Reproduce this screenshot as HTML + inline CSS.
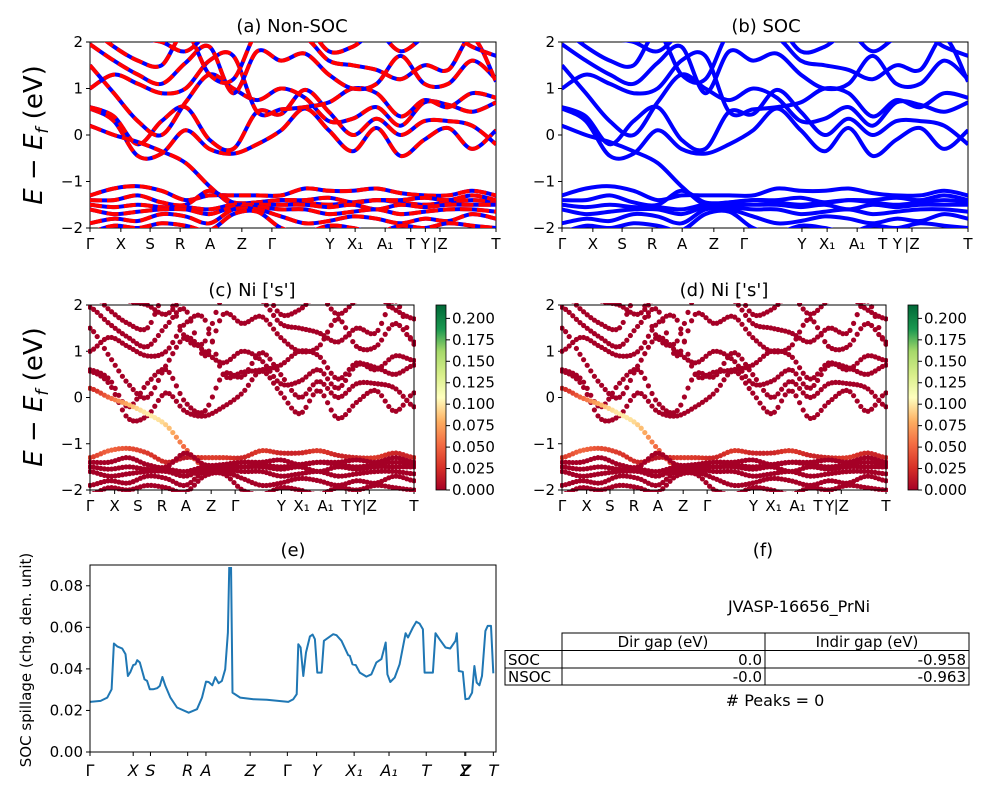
<!DOCTYPE html>
<html><head><meta charset="utf-8">
<style>
body{margin:0;background:#fff;}
svg{display:block;font-family:"DejaVu Sans","Liberation Sans",sans-serif;}
</style></head>
<body>
<svg id="fig" width="1000" height="800" viewBox="0 0 1000 800" xmlns="http://www.w3.org/2000/svg">
<defs>
<linearGradient id="rdylgn" x1="0" y1="1" x2="0" y2="0">
<stop offset="0" stop-color="#a50026"/><stop offset="0.12" stop-color="#d73027"/><stop offset="0.25" stop-color="#f46d43"/><stop offset="0.37" stop-color="#fdae61"/><stop offset="0.5" stop-color="#ffffbf"/><stop offset="0.62" stop-color="#d9ef8b"/><stop offset="0.75" stop-color="#a6d96a"/><stop offset="0.87" stop-color="#1a9850"/><stop offset="1" stop-color="#006837"/>
</linearGradient>
<clipPath id="clipA"><rect x="90" y="42" width="406" height="186"/></clipPath>
<clipPath id="clipB"><rect x="562" y="42" width="406" height="186"/></clipPath>
<clipPath id="clipC"><rect x="88" y="303" width="328" height="189"/></clipPath>
<clipPath id="clipD"><rect x="560" y="303" width="328" height="189"/></clipPath>
<clipPath id="clipE"><rect x="90" y="567" width="406" height="185"/></clipPath>
</defs>
</svg>
<script>
// ---- data ----
const kLabelsBand = ["Γ","X","S","R","A","Z","Γ","Y","X₁","A₁","T","Y","|Z","T"];
const kTickFrac = [0,0.076,0.148,0.222,0.296,0.374,0.448,0.591,0.653,0.727,0.79,0.826,0.862,1];
const yTicksBand = [-2,-1,0,1,2];
const bandC1 = [0.57,0.3,-0.45,-0.4,0.1,-0.3,-0.4,-0.2,0.1,0.57,0.1,-0.35,0.15,-0.45,-0.1,0.15,-0.3,0.1];
const bandC2 = [0.6,0.4,-0.2,0.3,0.6,-0.1,-0.3,0.5,0.45,0.97,0.5,0.0,0.35,0.0,0.3,0.3,0.2,-0.2];
const bandC3 = [1.5,0.9,0.3,0.0,0.7,1.3,1.0,0.75,1.0,0.8,0.3,0.35,0.6,0.2,0.7,0.65,0.5,0.7];
const bandC4 = [1.0,1.3,1.1,0.9,1.0,1.6,1.7,0.5,0.55,0.6,0.7,1.0,0.9,0.4,0.75,0.6,0.9,0.8];
const bandC5 = [1.95,1.6,1.3,1.1,1.55,1.9,0.9,1.8,1.6,1.75,1.3,1.0,1.1,1.7,1.1,1.1,1.6,1.2];
const bandC6 = [2.3,1.9,1.6,1.5,2.2,1.3,1.2,2.2,2.1,2.1,1.6,1.5,1.4,1.2,1.5,1.4,2.1,1.15];
const bandC7 = [2.5,2.4,2.1,2.0,1.8,2.2,2.3,2.5,2.5,2.4,1.8,1.9,2.2,1.8,2.1,2.2,1.9,1.7];
const bandX1 = [0.2,0.0,-0.15,-0.35,-0.6,-1.1,-1.5,-1.45,-1.4,-1.45,-1.5,-1.45,-1.4,-1.45,-1.5,-1.45,-1.4,-1.45];
const bandV1 = [-1.3,-1.15,-1.1,-1.2,-1.4,-1.3,-1.3,-1.3,-1.3,-1.15,-1.2,-1.2,-1.15,-1.25,-1.3,-1.3,-1.2,-1.3];
const bandV2 = [-1.4,-1.4,-1.3,-1.45,-1.5,-1.2,-1.45,-1.45,-1.4,-1.4,-1.35,-1.45,-1.4,-1.4,-1.35,-1.4,-1.3,-1.4];
const bandV3 = [-1.5,-1.55,-1.5,-1.55,-1.55,-1.6,-1.5,-1.5,-1.5,-1.5,-1.55,-1.5,-1.6,-1.5,-1.55,-1.5,-1.5,-1.5];
const bandV4 = [-1.6,-1.7,-1.65,-1.6,-1.6,-1.7,-1.55,-1.55,-1.6,-1.6,-1.7,-1.65,-1.6,-1.7,-1.65,-1.6,-1.6,-1.65];
const bandV5 = [-1.9,-1.8,-1.85,-1.7,-1.75,-1.9,-1.6,-1.6,-1.75,-1.9,-1.85,-1.75,-1.8,-1.9,-1.8,-1.85,-1.7,-1.8];
const bandV6 = [-2.1,-1.95,-2.0,-1.9,-1.95,-2.05,-1.7,-1.65,-2.0,-2.1,-1.95,-2.0,-2.1,-1.95,-2.0,-1.9,-1.95,-2.0];
const weightX1 = [0.02,0.05,0.08,0.1,0.09,0.05,0.03,0.01,0,0,0,0,0,0,0,0,0,0];
const weightV1 = [0.03,0.05,0.04,0.03,0.02,0.01,0.03,0.03,0.02,0.03,0.02,0.02,0.03,0.02,0.02,0.03,0.02,0.02];
const bandsAll = [bandC1,bandC2,bandC3,bandC4,bandC5,bandC6,bandC7,bandX1,bandV1,bandV2,bandV3,bandV4,bandV5,bandV6];
const zero18 = [0,0,0,0,0,0,0,0,0,0,0,0,0,0,0,0,0,0];
const weightsAll = [zero18,zero18,zero18,zero18,zero18,zero18,zero18,weightX1,weightV1,zero18,zero18,zero18,zero18,zero18];
const cbarTicks = [0,0.025,0.05,0.075,0.1,0.125,0.15,0.175,0.2];
const cbarMax = 0.2156;
// spillage
const spillK = [0,32,52,65,72,82,97,107,114,122,130,137,142,150,157,164,172,180,190,202,210,218,227,242,262,297,322,337,349,357,368,377,387,397,407,415,420,424,429,452,492,532,597,612,622,627,634,642,650,662,670,677,684,697,704,732,742,757,777,782,790,800,812,832,847,862,877,890,895,904,917,932,950,957,972,982,992,1002,1007,1032,1040,1052,1070,1084,1100,1104,1110,1122,1130,1140,1150,1157,1164,1172,1180,1190,1197,1207,1214];
const spillV = [0.0241,0.0246,0.0262,0.0302,0.0522,0.0508,0.0498,0.0471,0.0366,0.0386,0.0418,0.0422,0.0442,0.0431,0.039,0.035,0.0342,0.0302,0.0302,0.0307,0.0318,0.0361,0.0318,0.0262,0.0214,0.0189,0.0206,0.0262,0.0339,0.0337,0.0321,0.036,0.0331,0.0342,0.0398,0.0575,0.095,0.095,0.0286,0.0262,0.0254,0.0251,0.0241,0.0254,0.0278,0.0519,0.0503,0.0366,0.0479,0.0556,0.0565,0.0543,0.0382,0.0382,0.0535,0.0567,0.0562,0.0535,0.0466,0.0463,0.0422,0.0418,0.0382,0.0363,0.0374,0.0431,0.0447,0.0527,0.0374,0.0337,0.0358,0.0422,0.0572,0.0551,0.0599,0.0627,0.0618,0.0591,0.0382,0.0382,0.0572,0.0543,0.0503,0.0498,0.0535,0.0572,0.039,0.0386,0.0254,0.0257,0.0286,0.0414,0.0334,0.0321,0.0366,0.0583,0.0607,0.0607,0.0379];
const spillKMax = 1222;
const spillTickK = [0,130,182,294,349,482,594,682,795,900,1012,1128,1131,1214];
const spillTickLabels = ["Γ","X","S","R","A","Z","Γ","Y","X₁","A₁","T","Y","Z","T"];
const spillYTicks = [0,0.02,0.04,0.06,0.08];

// ---- helpers ----
const NS="http://www.w3.org/2000/svg";
const svg=document.getElementById('fig');
function mk(tag,attrs,parent){const e=document.createElementNS(NS,tag);for(const k in attrs)e.setAttribute(k,attrs[k]);(parent||svg).appendChild(e);return e;}
function txt(s,x,y,size,anchor,parent){const t=mk('text',{x:x,y:y,'font-size':size,'text-anchor':anchor||'middle',fill:'#000'},parent);t.textContent=s;return t;}
function smoothPath(pts){let d='M'+pts[0][0].toFixed(1)+','+pts[0][1].toFixed(1);for(let i=0;i<pts.length-1;i++){const p0=pts[Math.max(i-1,0)],p1=pts[i],p2=pts[i+1],p3=pts[Math.min(i+2,pts.length-1)];const c1=[p1[0]+(p2[0]-p0[0])/6,p1[1]+(p2[1]-p0[1])/6],c2=[p2[0]-(p3[0]-p1[0])/6,p2[1]-(p3[1]-p1[1])/6];d+='C'+c1.map(v=>v.toFixed(1))+' '+c2.map(v=>v.toFixed(1))+' '+p2.map(v=>v.toFixed(1));}return d;}
function interp(arr,f){const p=f*(arr.length-1);const i=Math.min(Math.floor(p),arr.length-2);const t=p-i;const p0=arr[Math.max(i-1,0)],p1=arr[i],p2=arr[i+1],p3=arr[Math.min(i+2,arr.length-1)];const t2=t*t,t3=t2*t;return 0.5*((2*p1)+(-p0+p2)*t+(2*p0-5*p1+4*p2-p3)*t2+(-p0+3*p1-3*p2+p3)*t3);}
function rdylgn(v){const stops=[[0,[165,0,38]],[0.12,[215,48,39]],[0.25,[244,109,67]],[0.37,[253,174,97]],[0.5,[255,255,191]],[0.62,[217,239,139]],[0.75,[166,217,106]],[0.87,[26,152,80]],[1,[0,104,55]]];v=Math.max(0,Math.min(1,v));for(let i=0;i<stops.length-1;i++){if(v<=stops[i+1][0]){const t=(v-stops[i][0])/(stops[i+1][0]-stops[i][0]);const c=stops[i][1].map((a,j)=>Math.round(a+(stops[i+1][1][j]-a)*t));return 'rgb('+c+')';}}return 'rgb(0,104,55)';}

function bandAxes(g,x0,y0,w,h,labelSize){
  const sx=f=>x0+f*w, sy=e=>y0+h-(e+2)/4*h;
  mk('rect',{x:x0,y:y0,width:w,height:h,fill:'none',stroke:'#000','stroke-width':1},g);
  yTicksBand.forEach(v=>{mk('line',{x1:x0-4,x2:x0,y1:sy(v),y2:sy(v),stroke:'#000'},g);txt(v<0?'−'+(-v):String(v),x0-7,sy(v)+5,15,'end',g);});
  kTickFrac.forEach((f,i)=>{mk('line',{x1:sx(f),x2:sx(f),y1:y0+h,y2:y0+h+4,stroke:'#000'},g);txt(kLabelsBand[i],sx(f),y0+h+21,labelSize,'middle',g);});
  return {sx,sy};
}
function bandLines(g,ax,clip,mode){
  const cg=mk('g',{'clip-path':'url(#'+clip+')'},g);
  bandsAll.forEach((b,bi)=>{
    const pts=b.map((e,i)=>[ax.sx(i/(b.length-1)),ax.sy(e)]);
    const d=smoothPath(pts);
    const p1=mk('path',{d:d,fill:'none',stroke:'#0000ff','stroke-width':4},cg);
    
    
    if(mode==='both'){
      const p2=mk('path',{d:d,fill:'none',stroke:'#ff0000','stroke-width':4,'stroke-dasharray':'12,5'},cg);
      
      
    }
  });
}
function bandDots(g,ax,clip){
  const cg=mk('g',{'clip-path':'url(#'+clip+')'},g);
  const N=90;
  bandsAll.forEach((b,bi)=>{
    const w=weightsAll[bi];
    for(let j=0;j<=N;j++){
      const f=j/N;
      const c=mk('circle',{cx:ax.sx(f),cy:ax.sy(interp(b,f)),r:2.6,fill:rdylgn(Math.max(0,interp(w,f))/cbarMax)},cg);
      
      
    }
  });
}
function colorbar(g,x0,y0,h){
  const r=mk('rect',{x:x0,y:y0,width:10,height:h,fill:'url(#rdylgn)',stroke:'#000','stroke-width':0.8},g);
  
  
  cbarTicks.forEach(v=>{const y=y0+h-v/cbarMax*h;mk('line',{x1:x0+10,x2:x0+14,y1:y,y2:y,stroke:'#000'},g);txt(v.toFixed(3),x0+16,y+5,15,'start',g);});
}
function ylabelE(x,y){
  const t=mk('text',{x:0,y:0,'font-size':26,'text-anchor':'middle',transform:'translate('+x+','+y+') rotate(-90)'});
  
  
  t.innerHTML='<tspan font-style="italic">E</tspan> − <tspan font-style="italic">E</tspan><tspan font-style="italic" font-size="17" dy="6">f</tspan><tspan dy="-6"> (eV)</tspan>';
}

// panel a
let g=mk('g',{});
let ax=bandAxes(g,90,42,406,186,15);bandLines(g,ax,'clipA','both');
txt('(a) Non-SOC',292,32,18,'middle',g);
// panel b
g=mk('g',{});
ax=bandAxes(g,562,42,406,186,15);bandLines(g,ax,'clipB','soc');
txt('(b) SOC',766,32,18,'middle',g);
ylabelE(42,135);
// panel c
g=mk('g',{});
ax=bandAxes(g,90,305,324,185,15);bandDots(g,ax,'clipC');
mk('rect',{x:90,y:305,width:324,height:185,fill:'none',stroke:'#000'},g);
txt("(c)  Ni ['s']",252,296,18,'middle',g);colorbar(g,436,305,185);
// panel d
g=mk('g',{});
ax=bandAxes(g,562,305,324,185,15);bandDots(g,ax,'clipD');
mk('rect',{x:562,y:305,width:324,height:185,fill:'none',stroke:'#000'},g);
txt("(d) Ni ['s']",724,296,18,'middle',g);colorbar(g,908,305,185);
ylabelE(42,397);
// panel e
g=mk('g',{});
{
  const x0=90,y0=565,w=406,h=187,ymax=0.09;
  const sx=k=>x0+k/spillKMax*w, sy=v=>y0+h-v/ymax*h;
  const cg=mk('g',{'clip-path':'url(#clipE)'},g);
  const pts=spillK.map((k,i)=>[sx(k),sy(spillV[i])]);
  const p=mk('path',{d:'M'+pts.map(q=>q[0].toFixed(1)+','+q[1].toFixed(1)).join('L'),fill:'none',stroke:'#1f77b4','stroke-width':2,'stroke-linejoin':'round'},cg);
  
  
  mk('rect',{x:x0,y:y0,width:w,height:h,fill:'none',stroke:'#000'},g);
  spillYTicks.forEach(v=>{mk('line',{x1:x0-4,x2:x0,y1:sy(v),y2:sy(v),stroke:'#000'},g);txt(v.toFixed(2),x0-7,sy(v)+5,15,'end',g);});
  spillTickK.forEach((k,i)=>{mk('line',{x1:sx(k),x2:sx(k),y1:y0+h,y2:y0+h+4,stroke:'#000'},g);const t=txt(spillTickLabels[i],sx(k),y0+h+24,16,'middle',g);if(spillTickLabels[i]!=='Γ')t.setAttribute('font-style','italic');});
  txt('(e)',293,556,18,'middle',g);
  const yl=mk('text',{x:0,y:0,'font-size':15,'text-anchor':'middle',transform:'translate(31,660) rotate(-90)'},g);
  yl.textContent='SOC spillage (chg. den. unit)';
  
  
}
// panel f table
g=mk('g',{});
txt('(f)',763,556,18,'middle',g);
txt('JVASP-16656_PrNi',799,612,16,'middle',g);
mk('rect',{x:562,y:633,width:407,height:17.5,fill:'none',stroke:'#000'},g);
mk('line',{x1:765,x2:765,y1:633,y2:685,stroke:'#000'},g);
mk('rect',{x:505,y:650.5,width:464,height:34.5,fill:'none',stroke:'#000'},g);
mk('line',{x1:505,x2:969,y1:668,y2:668,stroke:'#000'},g);
mk('line',{x1:562,x2:562,y1:650,y2:685,stroke:'#000'},g);
txt('Dir gap (eV)',663,647,15,'middle',g);txt('Indir gap (eV)',867,647,15,'middle',g);
txt('SOC',508,665,15,'start',g);txt('0.0',762,665,15,'end',g);txt('-0.958',966,665,15,'end',g);
txt('NSOC',508,682,15,'start',g);txt('-0.0',762,682,15,'end',g);txt('-0.963',966,682,15,'end',g);
txt('# Peaks = 0',775,706,16,'middle',g);
</script>
</body></html>
